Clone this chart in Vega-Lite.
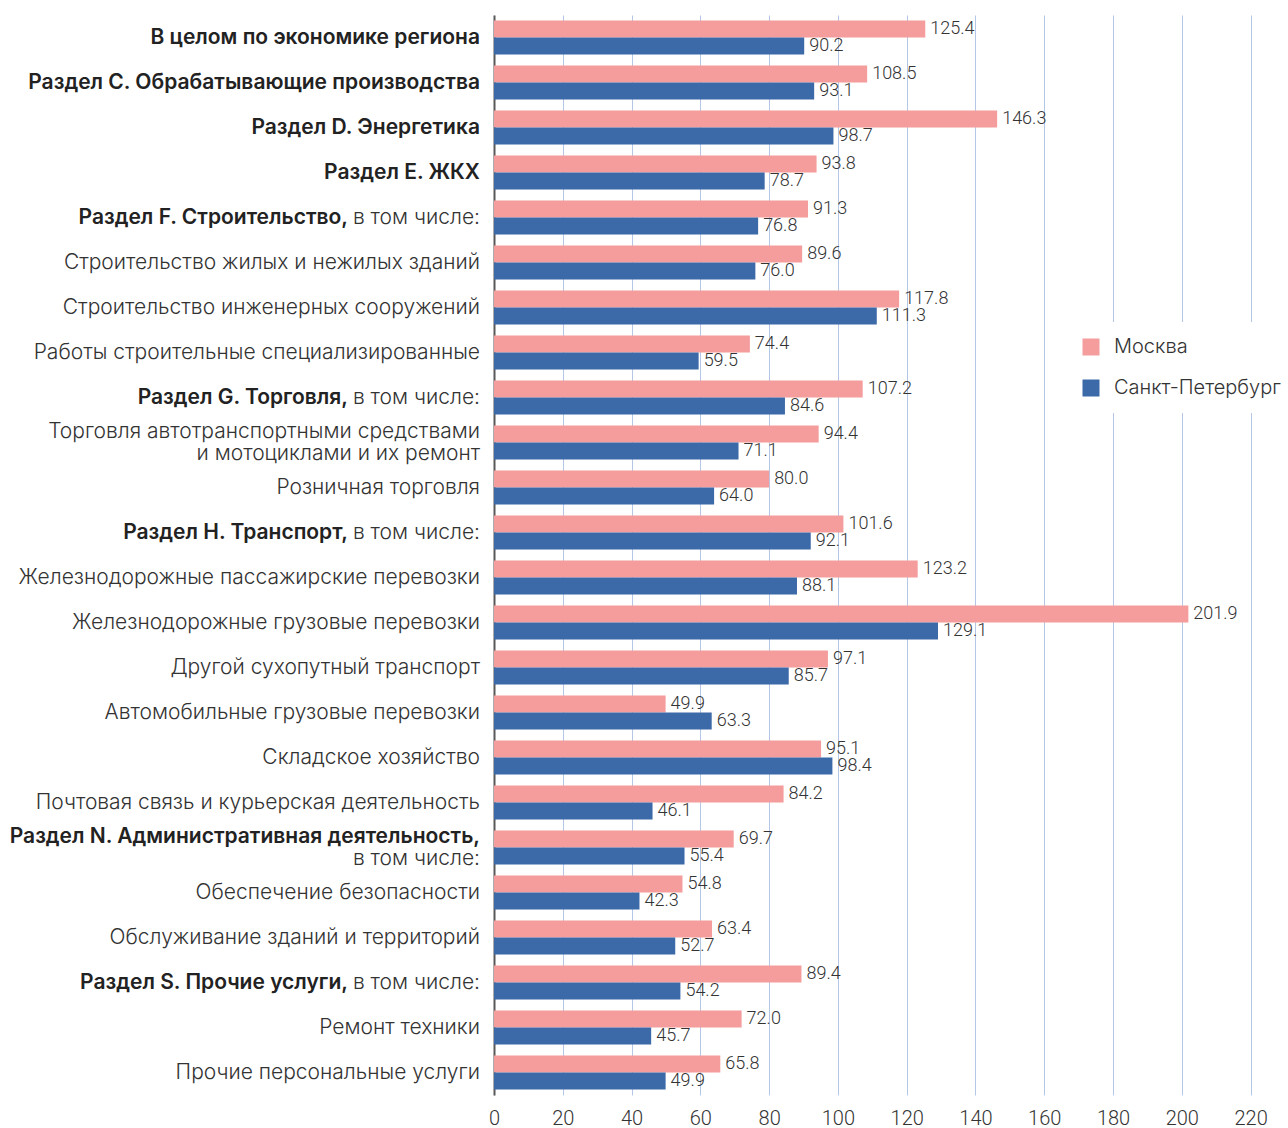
{
  "$schema": "https://vega.github.io/schema/vega-lite/v6.json",
  "autosize": "none",
  "width": 791,
  "height": 1080,
  "padding": {"left": 494, "top": 15, "right": 3, "bottom": 33},
  "background": "white",
  "config": {"view": {"stroke": null}},
  "data": {"values": [
    {"cat": "В целом по экономике региона", "bold": "В целом по экономике региона", "reg": "", "kind": "b", "Москва": 125.4, "Санкт-Петербург": 90.2},
    {"cat": "Раздел C. Обрабатывающие производства", "bold": "Раздел C. Обрабатывающие производства", "reg": "", "kind": "b", "Москва": 108.5, "Санкт-Петербург": 93.1},
    {"cat": "Раздел D. Энергетика", "bold": "Раздел D. Энергетика", "reg": "", "kind": "b", "Москва": 146.3, "Санкт-Петербург": 98.7},
    {"cat": "Раздел E. ЖКХ", "bold": "Раздел E. ЖКХ", "reg": "", "kind": "b", "Москва": 93.8, "Санкт-Петербург": 78.7},
    {"cat": "Раздел F. Строительство, в том числе:", "bold": "Раздел F. Строительство,", "reg": "в том числе:", "kind": "bs", "Москва": 91.3, "Санкт-Петербург": 76.8},
    {"cat": "Строительство жилых и нежилых зданий", "bold": "", "reg": "Строительство жилых и нежилых зданий", "kind": "r", "Москва": 89.6, "Санкт-Петербург": 76.0},
    {"cat": "Строительство инженерных сооружений", "bold": "", "reg": "Строительство инженерных сооружений", "kind": "r", "Москва": 117.8, "Санкт-Петербург": 111.3},
    {"cat": "Работы строительные специализированные", "bold": "", "reg": "Работы строительные специализированные", "kind": "r", "Москва": 74.4, "Санкт-Петербург": 59.5},
    {"cat": "Раздел G. Торговля, в том числе:", "bold": "Раздел G. Торговля,", "reg": "в том числе:", "kind": "bs", "Москва": 107.2, "Санкт-Петербург": 84.6},
    {"cat": "Торговля автотранспортными средствами и мотоциклами и их ремонт", "bold": "", "reg": "Торговля автотранспортными средствами\nи мотоциклами и их ремонт", "kind": "r2", "Москва": 94.4, "Санкт-Петербург": 71.1},
    {"cat": "Розничная торговля", "bold": "", "reg": "Розничная торговля", "kind": "r", "Москва": 80.0, "Санкт-Петербург": 64.0},
    {"cat": "Раздел H. Транспорт, в том числе:", "bold": "Раздел H. Транспорт,", "reg": "в том числе:", "kind": "bs", "Москва": 101.6, "Санкт-Петербург": 92.1},
    {"cat": "Железнодорожные пассажирские перевозки", "bold": "", "reg": "Железнодорожные пассажирские перевозки", "kind": "r", "Москва": 123.2, "Санкт-Петербург": 88.1},
    {"cat": "Железнодорожные грузовые перевозки", "bold": "", "reg": "Железнодорожные грузовые перевозки", "kind": "r", "Москва": 201.9, "Санкт-Петербург": 129.1},
    {"cat": "Другой сухопутный транспорт", "bold": "", "reg": "Другой сухопутный транспорт", "kind": "r", "Москва": 97.1, "Санкт-Петербург": 85.7},
    {"cat": "Автомобильные грузовые перевозки", "bold": "", "reg": "Автомобильные грузовые перевозки", "kind": "r", "Москва": 49.9, "Санкт-Петербург": 63.3},
    {"cat": "Складское хозяйство", "bold": "", "reg": "Складское хозяйство", "kind": "r", "Москва": 95.1, "Санкт-Петербург": 98.4},
    {"cat": "Почтовая связь и курьерская деятельность", "bold": "", "reg": "Почтовая связь и курьерская деятельность", "kind": "r", "Москва": 84.2, "Санкт-Петербург": 46.1},
    {"cat": "Раздел N. Административная деятельность, в том числе:", "bold": "Раздел N. Административная деятельность,", "reg": "в том числе:", "kind": "bn", "Москва": 69.7, "Санкт-Петербург": 55.4},
    {"cat": "Обеспечение безопасности", "bold": "", "reg": "Обеспечение безопасности", "kind": "r", "Москва": 54.8, "Санкт-Петербург": 42.3},
    {"cat": "Обслуживание зданий и территорий", "bold": "", "reg": "Обслуживание зданий и территорий", "kind": "r", "Москва": 63.4, "Санкт-Петербург": 52.7},
    {"cat": "Раздел S. Прочие услуги, в том числе:", "bold": "Раздел S. Прочие услуги,", "reg": "в том числе:", "kind": "bs", "Москва": 89.4, "Санкт-Петербург": 54.2},
    {"cat": "Ремонт техники", "bold": "", "reg": "Ремонт техники", "kind": "r", "Москва": 72.0, "Санкт-Петербург": 45.7},
    {"cat": "Прочие персональные услуги", "bold": "", "reg": "Прочие персональные услуги", "kind": "r", "Москва": 65.8, "Санкт-Петербург": 49.9}
  ]},
  "encoding": {
    "y": {"field": "cat", "type": "nominal", "sort": null,
      "scale": {"paddingInner": 0.24, "paddingOuter": 0.12},
      "axis": {"labels": false, "ticks": false, "title": null, "grid": false, "domainColor": "#595959", "domainWidth": 2}}
  },
  "layer": [
    {
      "transform": [{"fold": ["Москва", "Санкт-Петербург"], "as": ["city", "value"]}],
      "layer": [
        {
          "mark": {"type": "bar"},
          "encoding": {
            "x": {"field": "value", "type": "quantitative",
              "scale": {"domain": [0, 230], "nice": false},
              "axis": {"values": [0, 20, 40, 60, 80, 100, 120, 140, 160, 180, 200, 220], "title": null, "domain": false, "ticks": false, "grid": true, "gridColor": "#B4C7E7", "gridWidth": 1, "labelFont": "Roboto", "labelFontWeight": 300, "labelFontSize": 20, "labelColor": "#333333", "labelPadding": 13, "labelFlush": false}},
            "yOffset": {"field": "city", "type": "nominal", "sort": ["Москва", "Санкт-Петербург"]},
            "color": {"field": "city", "type": "nominal", "sort": ["Москва", "Санкт-Петербург"],
              "scale": {"domain": ["Москва", "Санкт-Петербург"], "range": ["#F59C9C", "#3C69A8"]},
              "legend": {"title": null, "orient": "none", "legendX": 572, "legendY": 307, "fillColor": "white", "padding": 15,
                "symbolType": "square", "symbolSize": 289, "symbolStrokeWidth": 0, "symbolOpacity": 1,
                "labelFont": "Inter", "labelFontWeight": 300, "labelFontSize": 20, "labelColor": "#333333", "labelOffset": 13, "rowPadding": 21, "labelLimit": 400}}
          }
        },
        {
          "mark": {"type": "text", "align": "left", "baseline": "middle", "dx": 5, "font": "Roboto", "fontWeight": 300, "fontSize": 18, "color": "#333333"},
          "encoding": {
            "x": {"field": "value", "type": "quantitative"},
            "yOffset": {"field": "city", "type": "nominal", "sort": ["Москва", "Санкт-Петербург"]},
            "text": {"field": "value", "type": "quantitative", "format": ".1f"}
          }
        }
      ]
    },
    {
      "transform": [{"filter": "datum.kind == 'b'"}],
      "mark": {"type": "text", "align": "right", "baseline": "middle", "dx": -14, "font": "Inter", "fontWeight": 600, "fontSize": 21, "color": "#222222"},
      "encoding": {"x": {"datum": 0}, "text": {"field": "bold"}}
    },
    {
      "transform": [{"filter": "datum.kind == 'bn'"}],
      "mark": {"type": "text", "align": "right", "baseline": "middle", "dx": -14, "dy": -11, "font": "Inter", "fontWeight": 600, "fontSize": 21, "color": "#222222"},
      "encoding": {"x": {"datum": 0}, "text": {"field": "bold"}}
    },
    {
      "transform": [{"filter": "datum.kind == 'bs'"}],
      "mark": {"type": "text", "align": "right", "baseline": "middle", "dx": -146, "font": "Inter", "fontWeight": 600, "fontSize": 21, "color": "#222222"},
      "encoding": {"x": {"datum": 0}, "text": {"field": "bold"}}
    },
    {
      "transform": [{"filter": "datum.kind == 'r' || datum.kind == 'bs'"}],
      "mark": {"type": "text", "align": "right", "baseline": "middle", "dx": -14, "font": "Inter", "fontWeight": 300, "fontSize": 21, "color": "#333333"},
      "encoding": {"x": {"datum": 0}, "text": {"field": "reg"}}
    },
    {
      "transform": [{"filter": "datum.kind == 'bn'"}],
      "mark": {"type": "text", "align": "right", "baseline": "middle", "dx": -14, "dy": 11, "font": "Inter", "fontWeight": 300, "fontSize": 21, "color": "#333333"},
      "encoding": {"x": {"datum": 0}, "text": {"field": "reg"}}
    },
    {
      "transform": [{"filter": "datum.kind == 'r2'"}],
      "mark": {"type": "text", "align": "right", "baseline": "middle", "dx": -14, "dy": -11, "font": "Inter", "fontWeight": 300, "fontSize": 21, "color": "#333333", "lineBreak": "\n", "lineHeight": 22},
      "encoding": {"x": {"datum": 0}, "text": {"field": "reg"}}
    }
  ]
}
